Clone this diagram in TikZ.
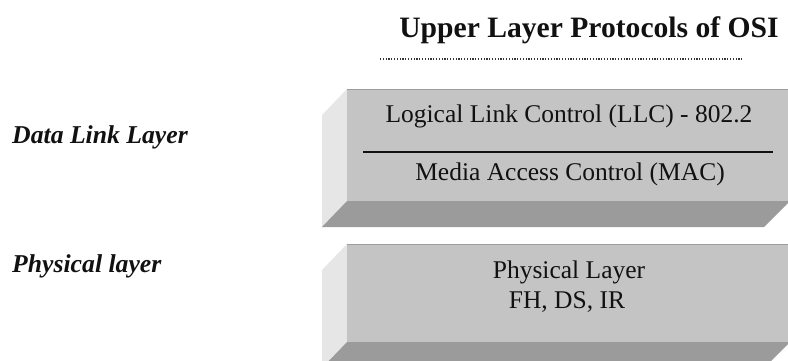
\documentclass[tikz,border=0pt]{standalone}
\usepackage{fontspec}
\setmainfont{Liberation Serif}
\definecolor{faceFront}{HTML}{C4C4C4}
\definecolor{faceSide}{HTML}{E6E6E6}
\definecolor{faceBottom}{HTML}{9B9B9B}
\definecolor{inkDark}{HTML}{111111}
\tikzset{
  front/.style={fill=faceFront},
  side/.style={fill=faceSide},
  bottom/.style={fill=faceBottom},
  boxtext/.style={anchor=base, inner sep=0pt, text=inkDark, font=\fontsize{25.5}{30}\selectfont},
  sidelabel/.style={anchor=base west, inner sep=0pt, text=inkDark, font=\fontsize{25.7}{30}\selectfont\bfseries\itshape},
  titletext/.style={anchor=base, inner sep=0pt, text=inkDark, font=\fontsize{29.6}{34}\selectfont\bfseries},
}
\begin{document}
\begin{tikzpicture}[x=1pt,y=-1pt]
  \useasboundingbox (0,0) rectangle (788,361);
  \clip (0,0) rectangle (788,361);

  % heading and its dotted rule
  \node[titletext] (title) at (589,38) {Upper Layer Protocols of OSI};
  \coordinate (ruleL) at (380,59);
  \coordinate (ruleR) at (742,59);
  \draw[inkDark!85, line width=1.7pt, dash pattern=on 1.2pt off 1.6pt] (ruleL) -- (ruleR);

  % data link layer slab
  \fill[side]   (347,89) -- (322,115) -- (322,227) -- (347,201) -- cycle;
  \fill[bottom] (347,201) -- (790,201) -- (764,227) -- (322,227) -- cycle;
  \fill[front]  (347,89) rectangle (790,201);
  \draw[faceFront!80!black, line width=0.8pt] (347,89.4) -- (790,89.4);
  \coordinate (sepL) at (363,152);
  \coordinate (sepR) at (773,152);
  \draw[inkDark, line width=1.8pt] (sepL) -- (sepR);
  \node[boxtext] (llc) at (569,123) {Logical Link Control (LLC) - 802.2};
  \node[boxtext] (mac) at (570,180) {Media Access Control (MAC)};

  % physical layer slab
  \fill[side]   (347,244) -- (322,270) -- (322,368) -- (347,342) -- cycle;
  \fill[bottom] (347,342) -- (790,342) -- (764,368) -- (322,368) -- cycle;
  \fill[front]  (347,244) rectangle (790,342);
  \draw[faceFront!80!black, line width=0.8pt] (347,244.4) -- (790,244.4);
  \node[boxtext] (phy) at (569,278) {Physical Layer};
  \node[boxtext] (phyvar) at (567,308) {FH, DS, IR};

  % layer names on the left
  \node[sidelabel] (dll) at (12,143) {Data Link Layer};
  \node[sidelabel] (pl) at (12,272) {Physical layer};
\end{tikzpicture}
\end{document}
